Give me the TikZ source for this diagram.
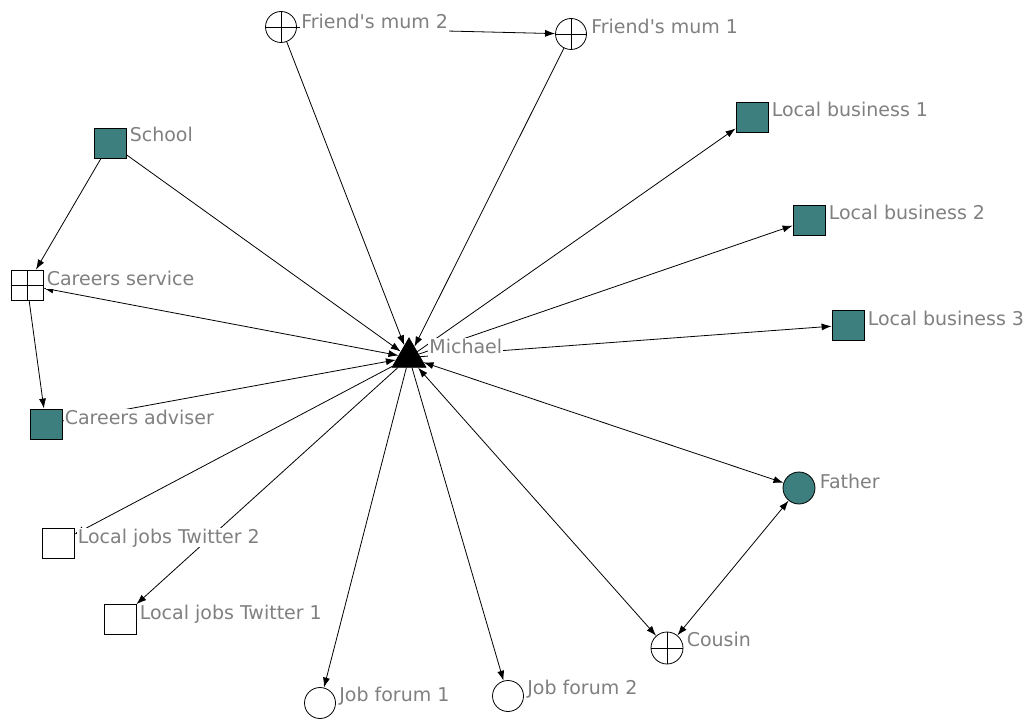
\documentclass[tikz,border=0pt]{standalone}
\usepackage{fontspec}
\newfontfamily\lblfont{DejaVu Sans}
\usetikzlibrary{arrows.meta, positioning, shapes.geometric, backgrounds}
\definecolor{actorteal}{RGB}{61,126,126}
\definecolor{labelgray}{RGB}{128,128,128}

\begin{document}
\begin{tikzpicture}[x=1pt, y=-1pt,
  every node/.style={inner sep=0pt, line width=0.8pt},
  tealsq/.style={draw, fill=actorteal, minimum width=32pt, minimum height=30pt},
  emptysq/.style={draw, fill=white, minimum width=32pt, minimum height=30pt},
  crosssq/.style={emptysq, path picture={\draw[line width=0.8pt] (path picture bounding box.north) -- (path picture bounding box.south) (path picture bounding box.west) -- (path picture bounding box.east);}},
  opendisk/.style={draw, circle, fill=white, minimum size=31pt},
  tealdisk/.style={draw, circle, fill=actorteal, minimum size=32pt},
  plusdisk/.style={opendisk, path picture={\draw[line width=0.8pt] (path picture bounding box.north) -- (path picture bounding box.south) (path picture bounding box.west) -- (path picture bounding box.east);}},
  lbl/.style={fill=white, text=labelgray, font=\lblfont\fontsize{19}{22}\selectfont, inner sep=1pt, text depth=3pt, anchor=base west},
  link/.style={-{Latex[length=10pt,width=7pt]}, line width=0.8pt},
  both/.style={{Latex[length=10pt,width=7pt]}-{Latex[length=10pt,width=7pt]}, line width=0.8pt}
]
  \useasboundingbox (0,0) rectangle (1035,719);

  % actors
  \node[draw, fill=black, regular polygon, regular polygon sides=3, minimum size=39pt] (michael) at (409,357.5) {};
  \node[plusdisk] (fm2) at (281,27) {};
  \node[plusdisk] (fm1) at (571,34) {};
  \node[tealsq] (school) at (110,143) {};
  \node[crosssq] (csrv) at (27,285) {};
  \node[tealsq] (cadv) at (46,424) {};
  \node[tealsq] (lb1) at (752,117) {};
  \node[tealsq] (lb2) at (809,220) {};
  \node[tealsq] (lb3) at (848,325) {};
  \node[tealdisk] (father) at (799,488) {};
  \node[plusdisk, minimum size=32pt] (cousin) at (667,648) {};
  \node[opendisk] (jf1) at (320,703) {};
  \node[opendisk] (jf2) at (508,696) {};
  \node[emptysq] (ljt2) at (58,543) {};
  \node[emptysq] (ljt1) at (120,619) {};

  % ties
  \begin{scope}[on background layer]
    \draw[link] (fm2) -- (fm1);
    \draw[link] (fm2) -- (michael);
    \draw[link] (fm1) -- (michael);
    \draw[link] (school) -- (csrv);
    \draw[link] (school) -- (michael);
    \draw[both] (csrv) -- (michael);
    \draw[link] (csrv) -- (cadv);
    \draw[link] (cadv) -- (michael);
    \draw[link] (michael) -- (ljt2);
    \draw[link] (michael) -- (ljt1);
    \draw[link] (michael) -- (lb1);
    \draw[link] (michael) -- (lb2);
    \draw[link] (michael) -- (lb3);
    \draw[both] (michael) -- (father);
    \draw[both] (father) -- (cousin);
    \draw[both] (michael) -- (cousin);
    \draw[link] (michael) -- (jf1);
    \draw[link] (michael) -- (jf2);
  \end{scope}

  % labels
  \node[lbl] (michael-l) at (428,353) {Michael};
  \node[lbl] (fm2-l) at ([xshift=3pt, yshift=-2pt]fm2.east) {Friend's mum 2};
  \node[lbl] (fm1-l) at ([xshift=3pt]fm1.east) {Friend's mum 1};
  \node[lbl] (school-l) at ([xshift=2pt, yshift=1pt]school.east) {School};
  \node[lbl] (csrv-l) at ([xshift=2pt]csrv.east) {Careers service};
  \node[lbl] (cadv-l) at ([xshift=1pt]cadv.east) {Careers adviser};
  \node[lbl] (lb1-l) at ([xshift=2pt]lb1.east) {Local business 1};
  \node[lbl] (lb2-l) at ([xshift=2pt]lb2.east) {Local business 2};
  \node[lbl] (lb3-l) at ([xshift=2pt]lb3.east) {Local business 3};
  \node[lbl] (father-l) at ([xshift=3pt]father.east) {Father};
  \node[lbl] (cousin-l) at ([xshift=2pt, yshift=2pt]cousin.east) {Cousin};
  \node[lbl] (jf1-l) at ([xshift=2pt, yshift=2pt]jf1.east) {Job forum 1};
  \node[lbl] (jf2-l) at ([xshift=2pt, yshift=2pt]jf2.east) {Job forum 2};
  \node[lbl] (ljt2-l) at ([xshift=2pt]ljt2.east) {Local jobs Twitter 2};
  \node[lbl] (ljt1-l) at ([xshift=2pt]ljt1.east) {Local jobs Twitter 1};
\end{tikzpicture}
\end{document}
